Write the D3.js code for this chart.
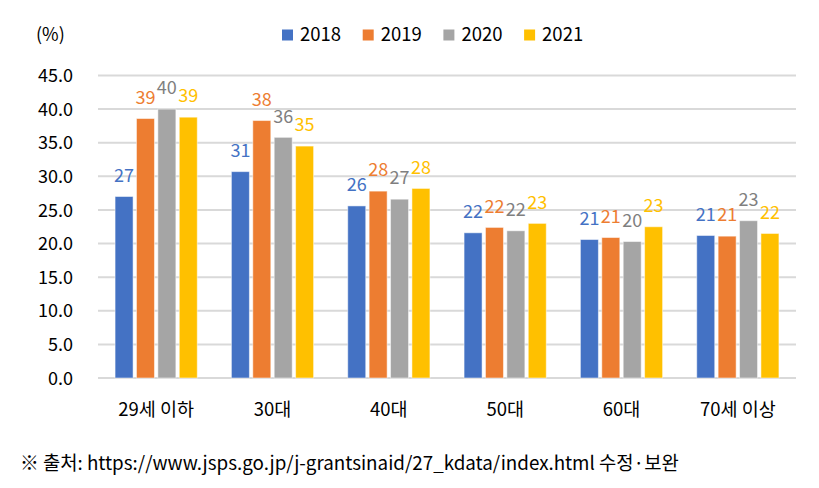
<!DOCTYPE html>
<html><head><meta charset="utf-8">
<script src="https://cdn.jsdelivr.net/npm/d3@7"></script>
<style>
body{margin:0;background:#fff;}
text{font-family:"Noto Sans CJK KR","Noto Sans",sans-serif;}
</style></head>
<body>
<svg id="c" width="819" height="488"></svg>
<script>
const categories = ["29세 이하","30대","40대","50대","60대","70세 이상"];
const years = ["2018","2019","2020","2021"];
const v2018 = [27.0, 30.7, 25.6, 21.6, 20.6, 21.2];
const v2019 = [38.6, 38.3, 27.8, 22.4, 20.9, 21.1];
const v2020 = [40.0, 35.8, 26.6, 21.9, 20.3, 23.4];
const v2021 = [38.8, 34.5, 28.2, 23.0, 22.5, 21.5];
const yTicks = [0,5,10,15,20,25,30,35,40,45];
const colors = ["#4472C4","#ED7D31","#A5A5A5","#FFC000"];
const labelColors = ["#4472C4","#ED7D31","#7F7F7F","#FFC000"];
const seriesVals = [v2018, v2019, v2020, v2021];

(function(){
const svg = d3.select("#c");
const pL = 98, pR = 796, pT = 75.5, pB = 378;
const x0 = d3.scaleBand().domain(categories).range([pL, pR]).paddingInner(0).paddingOuter(0);
const y = d3.scaleLinear().domain([0,45]).range([pB, pT]);
const step = 21.4, bw = 18;
const x1 = d3.scaleBand().domain(years).range([-2*step, 2*step]);

svg.append("g").selectAll("line").data(yTicks).join("line")
  .attr("x1", pL).attr("x2", pR)
  .attr("y1", d=>y(d)).attr("y2", d=>y(d))
  .attr("stroke", "#D9D9D9").attr("stroke-width", 2);

const yAxis = d3.axisLeft(y).tickValues(yTicks).tickFormat(d3.format(".1f")).tickSize(0).tickPadding(0);
const ya = svg.append("g").attr("transform", `translate(73,0)`).call(yAxis);
ya.select(".domain").remove();
ya.selectAll("text").attr("font-size", 18).attr("fill", "#000").attr("dy","0.34em")
  .style("font-family", '"Noto Sans CJK KR","Noto Sans",sans-serif');

years.forEach((yr, i) => {
  const g = svg.append("g");
  const vals = seriesVals[i];
  g.selectAll("rect").data(categories).join("rect")
    .attr("x", (c) => x0(c) + x0.bandwidth()/2 + x1(yr) + (step - bw)/2)
    .attr("width", bw)
    .attr("y", (c,j) => y(vals[j]))
    .attr("height", (c,j) => pB - y(vals[j]))
    .attr("fill", colors[i])
    .attr("stroke", "#fff").attr("stroke-opacity", 0.5).attr("stroke-width", 1);
  g.selectAll("text").data(categories).join("text")
    .attr("x", (c) => x0(c) + x0.bandwidth()/2 + x1(yr) + step/2)
    .attr("y", (c,j) => y(vals[j]) - 21)
    .attr("dy", "0.35em")
    .attr("text-anchor", "middle")
    .attr("font-size", 18)
    .attr("fill", labelColors[i])
    .text((c,j) => d3.format(".0f")(vals[j]));
});

const xAxis = d3.axisBottom(x0).tickSize(0).tickPadding(0);
const xa = svg.append("g").attr("transform", `translate(0,410)`).call(xAxis);
xa.select(".domain").remove();
xa.selectAll("text").attr("font-size", 18.5).attr("fill", "#000").attr("dy","0.35em")
  .style("font-family", '"Noto Sans CJK KR","Noto Sans",sans-serif');

svg.append("text").attr("x", 36).attr("y", 35).attr("dy","0.35em")
  .attr("font-size", 18).attr("fill","#000").text("(%)");

const lg = svg.append("g");
years.forEach((yr, i) => {
  const lx = 282 + i*80.7;
  lg.append("rect").attr("x", lx).attr("y", 29.5).attr("width", 11).attr("height", 11).attr("fill", colors[i]);
  lg.append("text").attr("x", lx + 18).attr("y", 35).attr("dy","0.35em")
    .attr("font-size", 18.5).attr("fill","#000").text(yr);
});

svg.append("text").attr("x", 20).attr("y", 463).attr("dy","0.35em")
  .attr("font-size", 18.8).attr("fill","#000")
  .text("※ 출처: https://www.jsps.go.jp/j-grantsinaid/27_kdata/index.html 수정·보완");
})();
</script>
</body></html>
